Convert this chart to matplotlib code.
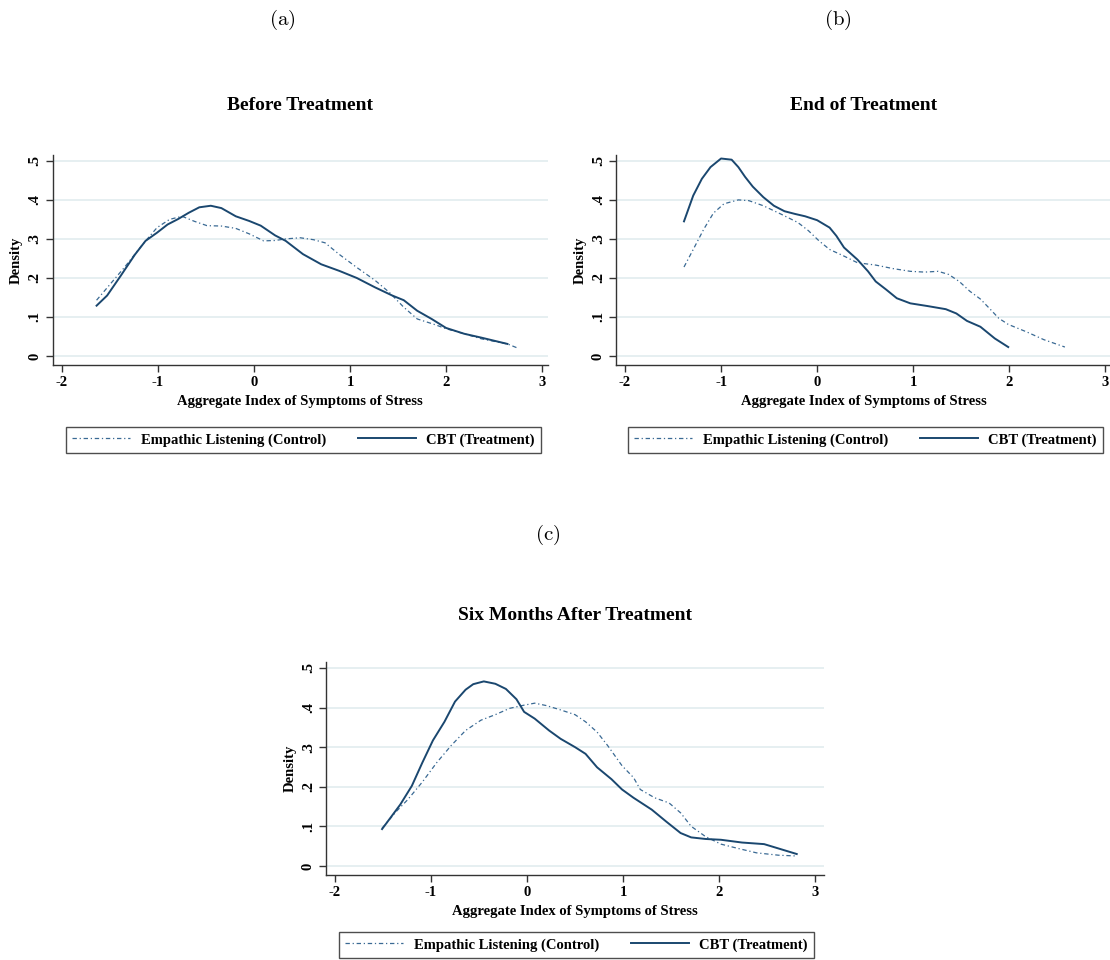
import matplotlib
matplotlib.use('Agg')
import matplotlib.pyplot as plt
from matplotlib.lines import Line2D

plt.rcParams['font.family'] = ['Liberation Serif', 'DejaVu Serif']
plt.rcParams['font.weight'] = 'bold'
plt.rcParams['axes.unicode_minus'] = False
plt.rcParams['mathtext.fontset'] = 'cm'

# ---------------- data ----------------
panel_letters = ['(a)', '(b)', '(c)']
titles = ['Before Treatment', 'End of Treatment', 'Six Months After Treatment']
xlabel = 'Aggregate Index of Symptoms of Stress'
ylabel = 'Density'
series_labels = ['Empathic Listening (Control)', 'CBT (Treatment)']
xticks = [-2, -1, 0, 1, 2, 3]
xtick_labels = ['-2', '-1', '0', '1', '2', '3']
yticks = [0, 0.1, 0.2, 0.3, 0.4, 0.5]
ytick_labels = ['0', '.1', '.2', '.3', '.4', '.5']

# (a) Before treatment
before_control_x = [-1.64, -1.35, -1.16, -1.01, -0.88, -0.75, -0.62, -0.49, -0.34, -0.19, -0.05, 0.10,
                    0.22, 0.33, 0.48, 0.62, 0.74, 0.89, 1.07, 1.26, 1.41, 1.56, 1.70, 1.89, 2.00, 2.19,
                    2.37, 2.64, 2.75]
before_control_y = [0.143, 0.227, 0.286, 0.329, 0.350, 0.358, 0.345, 0.334, 0.333, 0.327, 0.313, 0.295,
                    0.296, 0.300, 0.303, 0.298, 0.290, 0.260, 0.227, 0.194, 0.163, 0.125, 0.095, 0.080,
                    0.070, 0.057, 0.044, 0.031, 0.020]
before_cbt_x = [-1.64, -1.53, -1.39, -1.24, -1.13, -1.01, -0.90, -0.79, -0.68, -0.57, -0.45, -0.34,
                -0.19, -0.05, 0.07, 0.22, 0.33, 0.51, 0.70, 0.89, 1.07, 1.26, 1.44, 1.56, 1.70, 1.85,
                2.00, 2.19, 2.37, 2.64]
before_cbt_y = [0.129, 0.155, 0.205, 0.260, 0.295, 0.316, 0.337, 0.351, 0.367, 0.381, 0.385, 0.379,
                0.358, 0.346, 0.334, 0.309, 0.295, 0.261, 0.235, 0.218, 0.200, 0.176, 0.155, 0.143,
                0.116, 0.095, 0.072, 0.057, 0.047, 0.031]

# (b) End of treatment
end_control_x = [-1.386, -1.29, -1.18, -1.08, -0.97, -0.82, -0.71, -0.56, -0.38, -0.20, -0.09, 0.02,
                 0.13, 0.28, 0.42, 0.61, 0.79, 0.97, 1.12, 1.26, 1.37, 1.48, 1.59, 1.70, 1.81, 1.89,
                 1.99, 2.18, 2.36, 2.58]
end_control_y = [0.228, 0.273, 0.325, 0.366, 0.390, 0.400, 0.398, 0.385, 0.364, 0.342, 0.321, 0.295,
                 0.273, 0.256, 0.239, 0.233, 0.224, 0.217, 0.215, 0.217, 0.209, 0.191, 0.166, 0.146,
                 0.118, 0.097, 0.081, 0.062, 0.042, 0.023]
end_cbt_x = [-1.386, -1.29, -1.20, -1.11, -1.00, -0.89, -0.82, -0.75, -0.67, -0.56, -0.45, -0.34,
             -0.23, -0.125, 0.00, 0.13, 0.20, 0.28, 0.42, 0.53, 0.61, 0.72, 0.83, 0.97, 1.15, 1.34,
             1.45, 1.56, 1.70, 1.85, 1.99]
end_cbt_y = [0.345, 0.411, 0.454, 0.484, 0.506, 0.503, 0.484, 0.459, 0.434, 0.407, 0.385, 0.371,
             0.364, 0.358, 0.348, 0.329, 0.308, 0.278, 0.247, 0.217, 0.191, 0.170, 0.148, 0.135,
             0.128, 0.120, 0.109, 0.090, 0.075, 0.045, 0.023]

# (c) Six months after treatment
six_control_x = [-1.51, -1.36, -1.24, -1.09, -0.94, -0.79, -0.64, -0.48, -0.33, -0.18, -0.03, 0.08,
                 0.20, 0.35, 0.50, 0.61, 0.73, 0.84, 0.99, 1.11, 1.18, 1.33, 1.48, 1.60, 1.71, 1.86,
                 2.02, 2.20, 2.39, 2.62, 2.81]
six_control_y = [0.095, 0.138, 0.168, 0.212, 0.261, 0.304, 0.342, 0.368, 0.382, 0.398, 0.406, 0.411,
                 0.405, 0.394, 0.382, 0.364, 0.338, 0.304, 0.253, 0.223, 0.193, 0.172, 0.159, 0.134,
                 0.100, 0.074, 0.055, 0.044, 0.033, 0.027, 0.025]
six_cbt_x = [-1.51, -1.32, -1.20, -1.09, -0.98, -0.86, -0.75, -0.64, -0.56, -0.45, -0.33, -0.22,
             -0.11, -0.03, 0.08, 0.23, 0.35, 0.50, 0.61, 0.73, 0.88, 0.99, 1.11, 1.30, 1.45, 1.60,
             1.71, 1.86, 2.02, 2.24, 2.47, 2.62, 2.81]
six_cbt_y = [0.093, 0.155, 0.202, 0.261, 0.317, 0.364, 0.415, 0.445, 0.459, 0.466, 0.460, 0.447,
             0.421, 0.389, 0.372, 0.342, 0.321, 0.300, 0.283, 0.249, 0.219, 0.193, 0.172, 0.142,
             0.112, 0.083, 0.072, 0.068, 0.066, 0.059, 0.055, 0.044, 0.030]

# ---------------- figure ----------------
W, H = 1110, 960
fig = plt.figure(figsize=(W / 100, H / 100), dpi=100)

NAVY = '#1a476f'
CTRL = '#3a6a94'
GRID = '#e6eff1'
SPINE = '#333333'
ctrl_style = (0, (3.5, 2.2, 1.0, 2.2))


def px_axes(left, top, right, bottom):
    return fig.add_axes([left / W, 1 - bottom / H, (right - left) / W, (bottom - top) / H])


panels = [
    dict(box=(52.7, 155, 548, 365), xlim=(-2.097, 3.0625), data=(before_control_x, before_control_y, before_cbt_x, before_cbt_y),
         title=titles[0], title_y=105, legend=(303.5, 440)),
    dict(box=(616, 155, 1111, 365), xlim=(-2.094, 3.06), data=(end_control_x, end_control_y, end_cbt_x, end_cbt_y),
         title=titles[1], title_y=105, legend=(865.5, 440)),
    dict(box=(326, 662, 824, 875), xlim=(-2.094, 3.094), data=(six_control_x, six_control_y, six_cbt_x, six_cbt_y),
         title=titles[2], title_y=615, legend=(576.5, 945)),
]

FS = 10.5
for p in panels:
    ax = px_axes(*p['box'])
    cx, cy, tx, ty = p['data']
    ax.set_xlim(*p['xlim'])
    ax.set_ylim(-0.023, 0.515)
    ax.set_yticks(yticks)
    ax.set_yticklabels(ytick_labels, rotation=90, va='center', fontsize=FS, fontweight='bold')
    ax.set_xticks(xticks)
    ax.set_xticklabels(xtick_labels, fontsize=FS, fontweight='bold')
    ax.yaxis.grid(True, color=GRID, linewidth=1.4)
    ax.set_axisbelow(True)
    for s in ['top', 'right']:
        ax.spines[s].set_visible(False)
    for s in ['left', 'bottom']:
        ax.spines[s].set_color(SPINE)
        ax.spines[s].set_linewidth(1.0)
    ax.tick_params(direction='out', length=5, width=1.0, color=SPINE, pad=3)
    ax.plot(cx, cy, color=CTRL, linewidth=0.9, linestyle=ctrl_style)
    ax.plot(tx, ty, color=NAVY, linewidth=1.4)
    ax.set_xlabel(xlabel, fontsize=FS, fontweight='bold', labelpad=4)
    ax.set_ylabel(ylabel, fontsize=FS, fontweight='bold', labelpad=4)
    l, t, r, b = p['box']
    fig.text(((l + r) / 2) / W, 1 - p['title_y'] / H, p['title'],
             ha='center', va='center', fontsize=14, fontweight='bold')
    handles = [Line2D([], [], color=CTRL, linewidth=0.9, linestyle=ctrl_style),
               Line2D([], [], color=NAVY, linewidth=1.4)]
    leg = fig.legend(handles, series_labels, loc='center',
                     bbox_to_anchor=(p['legend'][0] / W, 1 - p['legend'][1] / H),
                     ncol=2, frameon=True, fancybox=False, edgecolor='#222222',
                     handlelength=4.0, handletextpad=0.7, columnspacing=2.2,
                     borderpad=0.4, prop={'weight': 'bold', 'size': FS})
    leg.get_frame().set_linewidth(1.0)

# panel letters
fig.text(282 / W, 1 - 20 / H, r'$\mathrm{(a)}$', ha='center', va='center', fontsize=15)
fig.text(838 / W, 1 - 20 / H, r'$\mathrm{(b)}$', ha='center', va='center', fontsize=15)
fig.text(548 / W, 1 - 535 / H, r'$\mathrm{(c)}$', ha='center', va='center', fontsize=15)

fig.savefig('out.png', dpi=100, facecolor='white')
